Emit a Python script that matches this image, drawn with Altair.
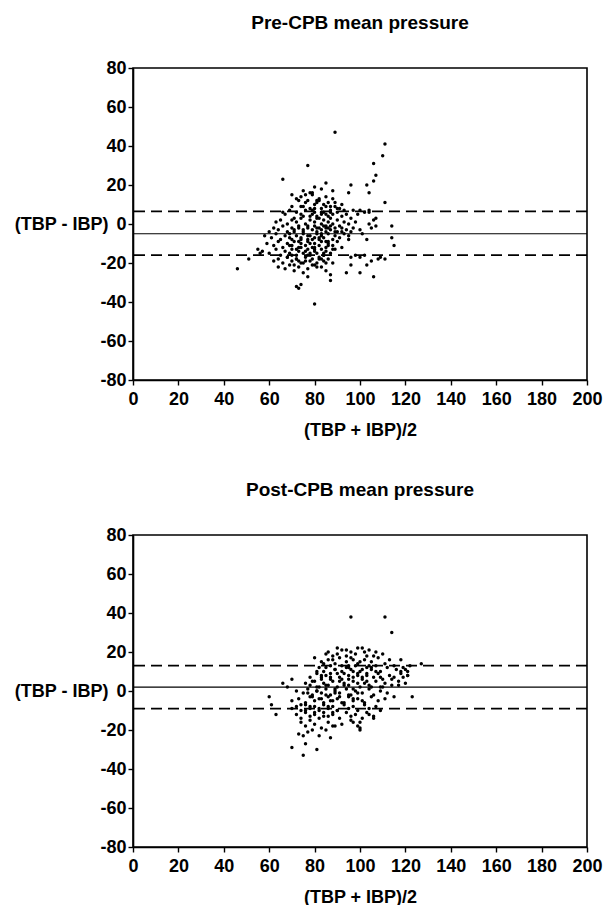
import altair as alt
import pandas as pd

# ---------------- data ----------------
pre_x = [89,111,110,106,107,106,77,66,96,103,104,95,111,114,114,115,111,106,100,94,87,87,80,72,74,73,46,51,55,56,
         85,80,75,70,88,104,107,107,103,103,105,100,96,96,92,108,109,102,98,100,101,104,105,106,104,102,99,96,95,97,90,92,88,89,
         72,74,77,78,79,81,82,84,86,73,76,
         70,75,78,80,83,85,87,89,91,93,80,
         66,67,69,72,74,76,79,81,83,85,86,88,90,92,94,97,100,
         63,65,68,70,72,74,76,78,80,82,83,84,85,86,87,88,90,91,93,95,98,
         60,62,64,66,68,70,71,73,75,77,79,80,81,82,83,84,85,86,87,89,90,92,94,96,
         58,61,63,65,67,69,70,72,74,75,77,78,80,81,82,83,84,86,88,89,91,93,95,
         59,62,64,66,68,69,71,73,74,76,77,79,80,82,83,85,86,88,90,92,
         57,60,63,65,67,69,70,72,73,75,77,78,80,81,83,84,85,87,89,
         62,64,66,68,70,72,74,76,78,79,81,82,84,86,88,
         64,67,69,71,73,75,77,80,83,85]
pre_y = [47,41,35,31,25,22,30,23,20,20,16,16,11,-1,-7,-11,-18,-27,-25,-25,-26,-29,-41,-32,-31,-33,-23,-18,-13,-15,
         21,19,17,15,17,6,3,-1,-8,-21,-19,-17,-21,-17,-4,-18,-17,-16,-16,-3,-5,0,-2,2,7,6,5,3,-6,-2,8,10,13,11,
         13,14,12,16,15,11,12,10,11,12,15,
         9,9,8,10,8,9,7,9,8,7,6,
         6,5,7,6,5,7,5,4,6,5,4,5,6,4,5,7,7,
         1,2,0,2,1,3,0,2,1,3,0,2,-1,1,3,0,2,-1,1,0,1,
         -4,-2,-3,-1,-4,-2,-3,-1,-4,-2,-3,-1,-4,-2,-3,-1,-4,-2,-3,-2,-4,-2,-3,-4,
         -6,-7,-5,-8,-6,-5,-8,-6,-7,-5,-8,-6,-7,-5,-8,-6,-7,-5,-8,-6,-7,-5,-8,
         -10,-11,-9,-12,-10,-11,-9,-12,-10,-11,-9,-12,-10,-11,-9,-12,-10,-11,-9,-12,
         -14,-15,-13,-16,-14,-15,-13,-16,-14,-15,-13,-16,-14,-15,-13,-16,-14,-15,-13,
         -19,-18,-20,-17,-19,-18,-20,-17,-19,-18,-20,-17,-19,-18,-20,
         -22,-23,-21,-24,-22,-25,-23,-21,-22,-24]
# denser core of the pre-CPB cloud
pre_core_x = [71,73,75,77,79,81,83,85,87,
              69,71,73,75,77,79,81,83,85,87,89,
              70,72,74,76,78,80,82,84,86,88,
              68,70,72,74,76,78,80,82,84,86,
              71,73,75,77,79,81,83,85,
              74,76,78,80,82,84,
              79,81,83,85,87,77]
pre_core_y = [3,-2,4,-1,7,3,5,-2,6,
              -7,-4,-9,-3,-6,-8,-2,-5,-9,-1,-4,
              -11,-13,-8,-14,-10,-12,-7,-15,-9,-13,
              -17,-16,-18,-12,-19,-15,-13,-18,-16,-11,
              -21,-19,-20,-16,-21,-22,-18,-20,
              9,11,4,8,13,6,
              16,12,18,14,9,-27]

post_x = [96,111,114,127,123,70,75,81,76,75,87,60,61,63,66,70,68,85,88,100,118,120,121,118,
          85,90,92,96,99,101,104,107,110,88,94,103,
          80,83,86,89,91,94,97,99,102,105,108,111,113,115,95,
          82,84,87,89,92,94,96,98,100,103,105,107,109,112,116,119,121,
          78,81,83,85,87,90,92,95,97,99,101,103,106,108,110,113,115,118,121,
          76,78,80,82,84,86,88,90,93,95,97,100,102,104,107,109,111,114,117,120,
          72,75,77,79,81,83,85,87,89,91,94,96,98,101,104,106,109,112,115,
          70,73,76,78,80,82,84,86,88,90,92,95,97,99,102,105,108,111,
          70,72,74,76,78,80,82,84,86,88,90,93,95,97,99,102,104,107,109,
          72,74,76,78,80,82,84,86,88,91,94,96,98,101,104,106,
          74,76,78,80,83,86,89,92,97,99,100,
          73,77,79,82]
post_y = [38,38,30,14,-3,-29,-33,-30,-27,-23,-24,-3,-7,-12,4,6,2,-20,-18,-20,10,11,8,16,
          19,22,21,20,22,22,21,20,19,18,18,18,
          17,15,16,14,17,15,16,14,16,15,17,14,16,13,13,
          12,10,13,11,10,12,11,13,10,12,11,13,10,12,11,12,10,
          7,9,6,8,7,9,6,8,7,9,6,8,7,9,6,8,7,9,8,
          4,3,5,2,4,3,5,2,4,3,5,2,4,3,5,2,4,3,5,4,
          0,-1,1,-2,0,-1,1,-2,0,-1,1,-2,0,-1,1,-2,0,-1,-3,
          -5,-4,-6,-3,-5,-4,-6,-3,-5,-4,-6,-3,-5,-4,-6,-3,-5,-4,
          -9,-8,-10,-7,-9,-8,-10,-7,-9,-8,-10,-7,-9,-8,-10,-7,-9,-8,-10,
          -12,-14,-11,-13,-12,-14,-11,-13,-12,-14,-11,-13,-12,-14,-12,-13,
          -16,-18,-15,-17,-19,-16,-18,-17,-16,-18,-19,
          -22,-21,-20,-23]
# denser core of the post-CPB cloud
post_core_x = [84,86,88,90,92,94,96,98,100,102,104,106,
               81,83,85,87,89,91,93,95,97,99,101,103,105,107,109,
               79,81,83,85,87,89,91,93,95,97,99,101,103,105,
               77,79,81,83,85,87,89,91,93,95,97,99,101,
               74,76,78,80,82,84,86,88,90,96,100,103,106,
               110,114,117,119,122]
post_core_y = [14,20,16,19,13,21,17,19,15,20,13,18,
               10,8,12,9,11,7,9,12,10,8,11,9,12,10,7,
               5,2,7,3,6,1,5,3,6,1,4,7,5,2,
               -1,-3,0,-4,-2,-5,-1,-3,-6,-2,-4,-1,-5,
               -7,-10,-8,-11,-9,-13,-8,-11,-10,-15,-16,-11,-14,
               2,6,3,7,13]

pre_mean, pre_limits = -5, [6.5, -16]
post_mean, post_limits = 2, [13, -9]

titles = ["Pre-CPB mean pressure", "Post-CPB mean pressure"]
x_ticks = list(range(0, 201, 20))
y_ticks = list(range(-80, 81, 20))

FONT = "Liberation Sans"
W, H = 454, 312

y_scale = alt.Scale(domain=[-80, 80], nice=False, zero=False)
x_scale = alt.Scale(domain=[0, 200], nice=False, zero=False)
y_axis = alt.Axis(values=y_ticks, title="(TBP - IBP)", grid=False,
                  labelOverlap=False, labelFlush=False, labelExpr="'' + datum.value",
                  tickSize=5, labelPadding=2, titleAngle=0,
                  titleAlign="right", titleBaseline="middle",
                  titleX=-25, titleY=H / 2)
x_axis = alt.Axis(values=x_ticks, title="(TBP + IBP)/2", grid=False,
                  labelOverlap=False, labelFlush=False, labelExpr="'' + datum.value",
                  tickSize=5, labelPadding=5, titlePadding=13)


def panel(xs, ys, mean, limits, title):
    pts = pd.DataFrame({"x": xs, "y": ys})
    dots = alt.Chart(pts).mark_circle(size=12, color="black", opacity=1).encode(
        x=alt.X("x:Q", scale=x_scale, axis=x_axis),
        y=alt.Y("y:Q", scale=y_scale, axis=y_axis))
    mean_rule = alt.Chart(pd.DataFrame({"y": [mean]})).mark_rule(
        color="black", strokeWidth=1.2).encode(y=alt.Y("y:Q", scale=y_scale, axis=y_axis))
    lim_rule = alt.Chart(pd.DataFrame({"y": limits})).mark_rule(
        color="black", strokeWidth=1.8, strokeDash=[11, 6]).encode(
        y=alt.Y("y:Q", scale=y_scale, axis=y_axis))
    return alt.layer(dots, mean_rule, lim_rule).properties(
        width=W, height=H,
        title=alt.TitleParams(title, fontSize=19, font=FONT, fontWeight="bold",
                              anchor="middle", offset=26, color="black"))


top = panel(pre_x + pre_core_x, pre_y + pre_core_y, pre_mean, pre_limits, titles[0])
bottom = panel(post_x + post_core_x, post_y + post_core_y, post_mean, post_limits, titles[1])

chart = alt.vconcat(top, bottom, spacing=40).properties(
    padding={"left": 5, "top": 5, "right": 5, "bottom": 5}
).configure_view(
    stroke="black", strokeWidth=1.6
).configure_axis(
    labelFont=FONT, titleFont=FONT, labelFontSize=18, titleFontSize=18,
    labelFontWeight="bold", titleFontWeight="bold", labelColor="black", titleColor="black",
    domainColor="black", tickColor="black", domainWidth=1.6, tickWidth=1.4
)

chart.save("out.html", embed_options={"renderer": "svg", "actions": False})
